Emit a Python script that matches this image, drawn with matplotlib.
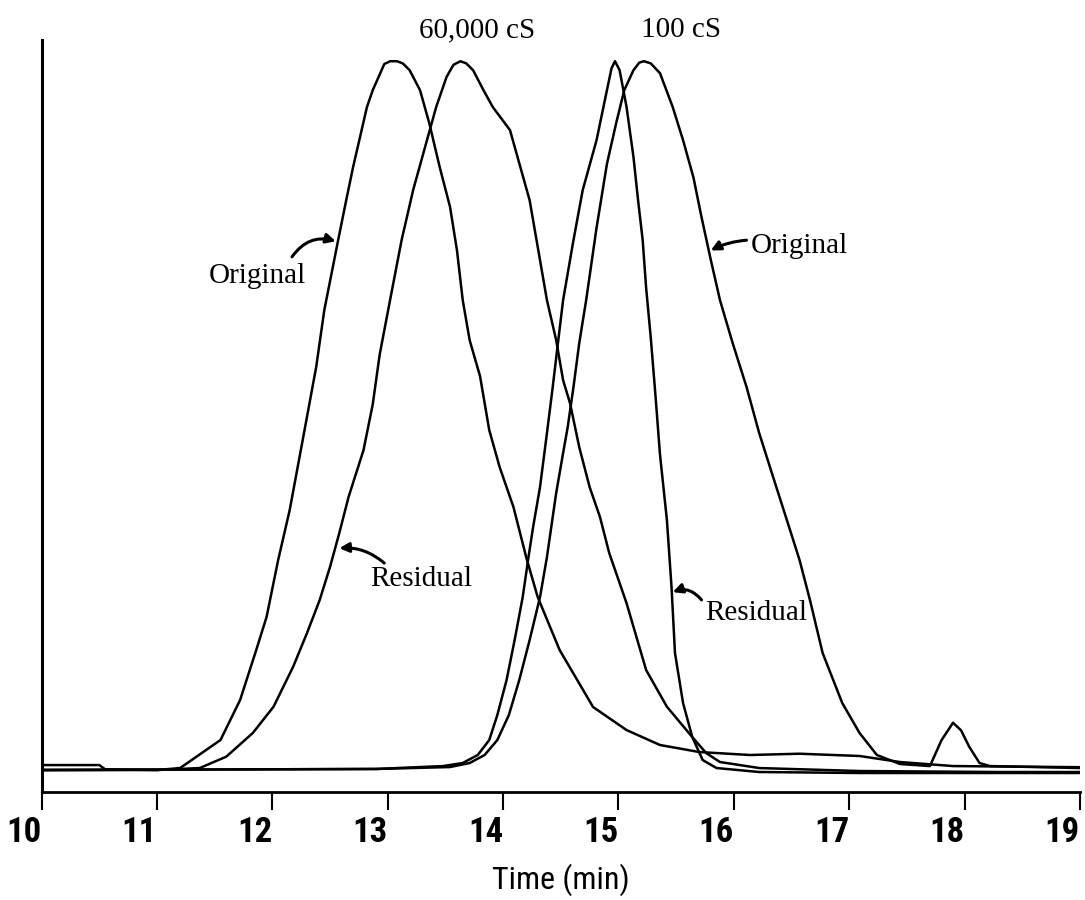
import matplotlib.pyplot as plt

# GPC traces: time (min) vs detector response (% of peak height)
orig_60k_t = [10.0, 10.5, 10.55, 11.0, 11.20, 11.55, 11.72, 11.86, 11.95, 12.05, 12.15, 12.30,
              12.38, 12.45, 12.57, 12.64, 12.70, 12.82, 12.87, 12.97, 13.02, 13.08, 13.13, 13.19,
              13.28, 13.36, 13.45, 13.54, 13.60, 13.65, 13.71, 13.80, 13.88, 13.97, 14.09, 14.20,
              14.30, 14.49, 14.78, 15.07, 15.36, 15.70, 16.14, 16.57, 17.09, 17.44, 17.90, 19.0]
orig_60k_y = [0.7, 0.7, 0.1, 0.0, 0.28, 4.23, 9.87, 16.93, 21.62, 29.62, 36.67, 49.83,
              56.88, 64.88, 74.75, 80.39, 85.09, 93.55, 95.91, 99.6, 100.0, 100.0, 99.7, 98.73,
              95.91, 91.26, 85.09, 79.45, 73.34, 66.29, 60.65, 55.57, 47.95, 42.74, 37.09, 30.04,
              24.40, 16.93, 8.89, 5.64, 3.53, 2.54, 2.12, 2.30, 1.98, 1.13, 0.56, 0.40]

resid_60k_t = [10.0, 11.0, 11.37, 11.60, 11.83, 12.01, 12.18, 12.30, 12.41, 12.50, 12.58, 12.66,
               12.79, 12.87, 12.93, 13.02, 13.12, 13.22, 13.34, 13.42, 13.51, 13.57, 13.63, 13.68,
               13.74, 13.83, 13.91, 14.06, 14.14, 14.23, 14.29, 14.38, 14.46, 14.52, 14.58, 14.66,
               14.75, 14.84, 14.92, 15.07, 15.24, 15.42, 15.64, 15.76, 15.88, 16.22, 17.09, 18.3,
               19.0]
resid_60k_y = [0.0, 0.0, 0.28, 1.88, 5.22, 8.93, 14.57, 19.32, 23.98, 28.67, 33.43, 38.50,
               45.13, 51.6, 58.6, 66.29, 74.75, 81.81, 88.86, 93.55, 97.79, 99.5, 100.0, 99.7,
               98.73, 95.91, 93.55, 90.27, 85.61, 80.39, 74.75, 66.29, 60.65, 55.01, 51.76, 45.56,
               39.92, 35.68, 30.61, 23.55, 14.10, 8.93, 4.65, 2.40, 1.13, 0.28, -0.14, -0.28,
               -0.28]

resid_100_t = [10.0, 12.9, 13.48, 13.65, 13.78, 13.88, 13.95, 14.03, 14.10, 14.17, 14.22, 14.26,
               14.32, 14.38, 14.43, 14.47, 14.52, 14.61, 14.69, 14.81, 14.90, 14.94, 14.97, 15.01,
               15.07, 15.13, 15.17, 15.21, 15.24, 15.28, 15.32, 15.36, 15.42, 15.46,
               15.49, 15.56, 15.64, 15.73, 15.85, 16.22, 17.09, 19.0]
resid_100_y = [0.0, 0.15, 0.56, 0.99, 2.12, 4.23, 7.76, 12.69, 18.34, 24.40, 30.04, 34.27,
               39.92, 47.53, 54.02, 59.5, 66.29, 74.75, 81.81, 88.86, 95.91, 99.0, 100.0, 98.73,
               93.55, 86.50, 80.39, 74.75, 68.0, 61.0, 53.0, 44.5, 35.26, 25.81,
               16.50, 9.45, 4.65, 1.41, 0.28, -0.28, -0.42, -0.42]

orig_100_t = [10.0, 12.9, 13.54, 13.71, 13.84, 13.95, 14.05, 14.14, 14.23, 14.32, 14.38, 14.46,
              14.52, 14.56, 14.61, 14.66, 14.72, 14.81, 14.90, 14.98, 15.05, 15.13, 15.18, 15.22,
              15.28, 15.36, 15.47, 15.56, 15.65, 15.72, 15.80, 15.88, 15.99, 16.11, 16.22, 16.34,
              16.46, 16.57, 16.66, 16.77, 16.94, 17.09, 17.24, 17.44, 17.70, 17.80, 17.90, 17.97,
              18.04, 18.13, 18.22, 19.0]
orig_100_y = [0.0, 0.15, 0.42, 0.99, 2.12, 4.23, 7.76, 12.69, 18.34, 24.40, 30.04, 39.07,
              44.71, 48.38, 54.02, 60.23, 66.29, 76.5, 85.5, 91.26, 95.91, 98.73, 99.8, 100.0,
              99.7, 98.31, 93.55, 88.86, 83.6, 78.0, 72.0, 66.29, 60.23, 54.06, 47.53, 41.37,
              35.26, 29.62, 23.98, 16.50, 9.45, 5.22, 2.12, 0.85, 0.56, 4.2, 6.67, 5.6,
              3.3, 0.99, 0.56, 0.28]

time_ticks = [10, 11, 12, 13, 14, 15, 16, 17, 18, 19]

serif = 'Liberation Serif'
narrow = ['Roboto Condensed', 'DejaVu Sans']

fig = plt.figure(figsize=(10.85, 9), dpi=100)
ax = fig.add_axes([0.0384, 0.12, 0.9569, 0.8356])

for t, y in [(orig_60k_t, orig_60k_y), (resid_60k_t, resid_60k_y),
             (resid_100_t, resid_100_y), (orig_100_t, orig_100_y)]:
    ax.plot(t, y, color='black', lw=1.8, solid_joinstyle='round')

ax.set_xlim(10, 19)
ax.set_ylim(-3.1, 103.0)
ax.spines['top'].set_visible(False)
ax.spines['right'].set_visible(False)
ax.spines['left'].set_linewidth(2.2)
ax.spines['bottom'].set_linewidth(2.0)
ax.set_yticks([])
ax.set_xticks(time_ticks)
ax.set_xticklabels([str(v) for v in time_ticks], family=narrow, fontsize=25,
                   fontweight='bold', fontstretch='condensed', ha='right')
ax.tick_params(axis='x', direction='out', length=13, width=1.5, pad=4)
ax.set_xlabel('Time (min)', family=narrow, fontsize=23, fontstretch='condensed', labelpad=11)

# curve labels
ax.text(13.77, 104.4, '60,000 cS', family=serif, fontsize=21, ha='center', va='center')
ax.text(15.54, 104.4, '100 cS', family=serif, fontsize=21, ha='center', va='center')

arrow = dict(arrowstyle='-|>', color='black', lw=2.2, mutation_scale=14)
ax.annotate('', xy=(12.55, 74.6), xytext=(12.17, 72.4),
            arrowprops=dict(arrow, connectionstyle='arc3,rad=-0.35', shrinkA=0, shrinkB=0))
ax.text(11.87, 69.7, 'Original', family=serif, fontsize=21, ha='center', va='center')

ax.annotate('', xy=(15.80, 73.3), xytext=(16.11, 74.75),
            arrowprops=dict(arrow, connectionstyle='arc3,rad=0.1', shrinkA=0, shrinkB=0))
ax.text(16.57, 74.0, 'Original', family=serif, fontsize=21, ha='center', va='center')

ax.annotate('', xy=(12.58, 31.3), xytext=(12.97, 29.2),
            arrowprops=dict(arrow, connectionstyle='arc3,rad=0.2', shrinkA=0, shrinkB=0))
ax.text(13.29, 26.9, 'Residual', family=serif, fontsize=21, ha='center', va='center')

ax.annotate('', xy=(15.47, 25.1), xytext=(15.72, 24.0),
            arrowprops=dict(arrow, connectionstyle='arc3,rad=0.35', shrinkA=0, shrinkB=0))
ax.text(16.19, 22.2, 'Residual', family=serif, fontsize=21, ha='center', va='center')

fig.savefig('out.png', dpi=100)
